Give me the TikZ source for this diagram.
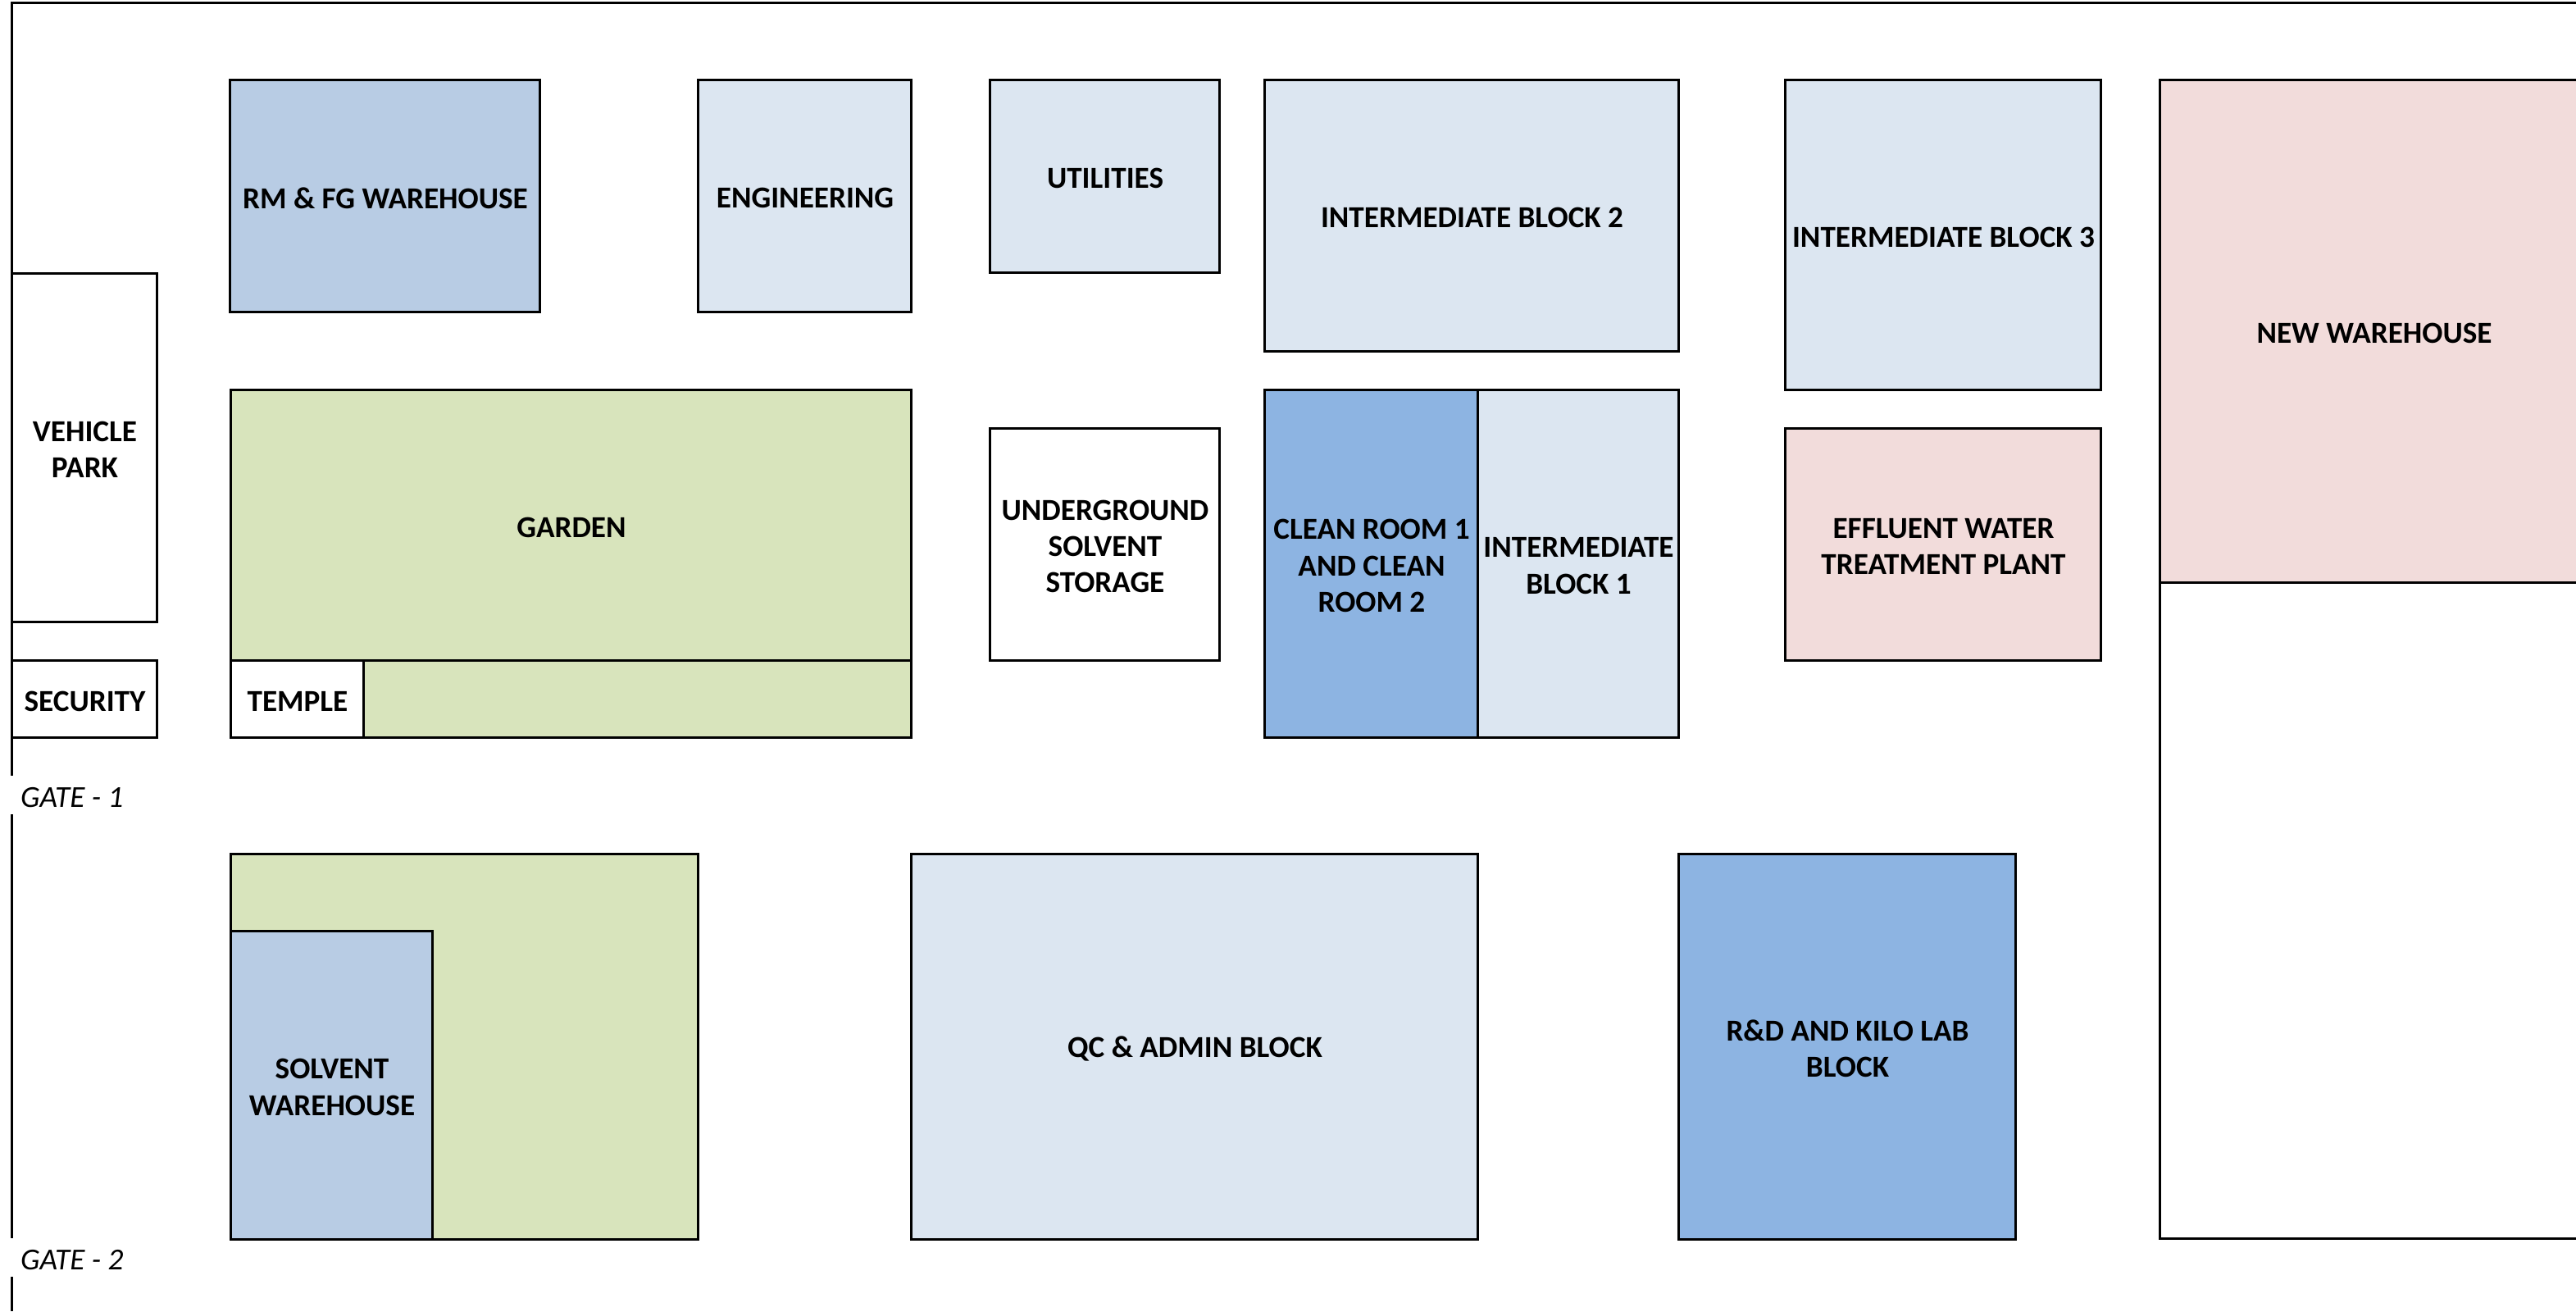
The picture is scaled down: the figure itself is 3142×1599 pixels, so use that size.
\documentclass[tikz,border=0pt]{standalone}
\usepackage{fontspec}
\setmainfont{Carlito}
\definecolor{paleblue}{HTML}{DCE6F1}
\definecolor{midblue}{HTML}{B8CCE4}
\definecolor{strongblue}{HTML}{8DB4E2}
\definecolor{palegreen}{HTML}{D8E4BC}
\definecolor{palepink}{HTML}{F2DCDB}
\tikzset{
  bldg/.style={draw=black,line width=3pt,rectangle,inner sep=0pt,outer sep=0pt},
  bldgtext/.style={inner sep=0pt,outer sep=0pt,align=center,text=black,xshift=0.5pt,yshift=-3pt,
    font=\fontsize{37.2}{44.4}\selectfont\bfseries},
  wall/.style={draw=black,line width=2.6pt},
  gatelabel/.style={inner sep=0pt,anchor=west,text=black,font=\fontsize{37.2}{44.4}\selectfont\itshape}
}
\newcommand{\bldgbox}[7]{%
  \pgfmathsetmacro{\cxx}{(#3+#5)/2-0.5}\pgfmathsetmacro{\cyy}{(#4+#6)/2-1}%
  \pgfmathsetmacro{\www}{#5-#3}\pgfmathsetmacro{\hhh}{#6-#4}%
  \node[bldg,#2,minimum width=\www pt,minimum height=\hhh pt,
        label={[bldgtext,name=#1text]center:{#7}}] (#1) at (\cxx,\cyy) {};}
\begin{document}
\begin{tikzpicture}[x=1pt,y=-1pt]
\useasboundingbox[fill=white] (0,0) rectangle (3142,1599);
% site boundary
\coordinate (wallTR) at (3142,3.5);
\coordinate (wallTL) at (14.5,3.5);
\coordinate (gateOneTop) at (14.5,946);
\coordinate (gateOneBot) at (14.5,993);
\coordinate (gateTwoTop) at (14.5,1510);
\coordinate (gateTwoBot) at (14.5,1557);
\coordinate (wallBL) at (14.5,1599);
\draw[wall] (wallTR) -- (wallTL) -- (gateOneTop);
\draw[wall] (gateOneBot) -- (gateTwoTop);
\draw[wall] (gateTwoBot) -- (wallBL);
\node[gatelabel] (gateOne) at (25,973) {GATE - 1};
\node[gatelabel] (gateTwo) at (25,1537) {GATE - 2};
% top row
\bldgbox{rmfg}{fill=midblue}{281}{98}{659}{381}{RM \& FG WAREHOUSE}
\bldgbox{eng}{fill=paleblue}{852}{98}{1112}{381}{ENGINEERING}
\bldgbox{util}{fill=paleblue}{1208}{98}{1488}{333}{UTILITIES}
\bldgbox{ibtwo}{fill=paleblue}{1543}{98}{2048}{429}{INTERMEDIATE BLOCK 2}
\bldgbox{ibthree}{fill=paleblue}{2178}{98}{2563}{476}{INTERMEDIATE BLOCK 3}
\bldgbox{newwh}{fill=palepink}{2635}{98}{3157}{711}{NEW WAREHOUSE}
\bldgbox{newwhlow}{fill=white}{2635}{711}{3157}{1511}{}
% left column
\bldgbox{vehicle}{fill=white}{15}{334}{192}{759}{VEHICLE\\PARK}
\bldgbox{security}{fill=white}{15}{806}{192}{900}{SECURITY}
% middle row
\bldgbox{garden}{fill=palegreen}{282}{476}{1112}{806}{GARDEN}
\bldgbox{gardenlow}{fill=palegreen}{444}{806}{1112}{900}{}
\bldgbox{temple}{fill=white}{282}{806}{444}{900}{TEMPLE}
\bldgbox{ugstore}{fill=white}{1208}{523}{1488}{806}{UNDERGROUND\\SOLVENT\\STORAGE}
\bldgbox{clean}{fill=strongblue}{1543}{476}{1803}{900}{CLEAN ROOM 1\\AND CLEAN\\ROOM 2}
\bldgbox{ibone}{fill=paleblue}{1803}{476}{2048}{900}{INTERMEDIATE\\BLOCK 1}
\bldgbox{etp}{fill=palepink}{2178}{523}{2563}{806}{EFFLUENT WATER\\TREATMENT PLANT}
% bottom row
\bldgbox{solvgreen}{fill=palegreen}{282}{1042}{852}{1512}{}
\bldgbox{solvent}{fill=midblue}{282}{1136}{528}{1512}{SOLVENT\\WAREHOUSE}
\bldgbox{qc}{fill=paleblue}{1112}{1042}{1803}{1512}{QC \& ADMIN BLOCK}
\bldgbox{rnd}{fill=strongblue}{2048}{1042}{2459}{1512}{R\&D AND KILO LAB\\BLOCK}
\end{tikzpicture}
\end{document}
